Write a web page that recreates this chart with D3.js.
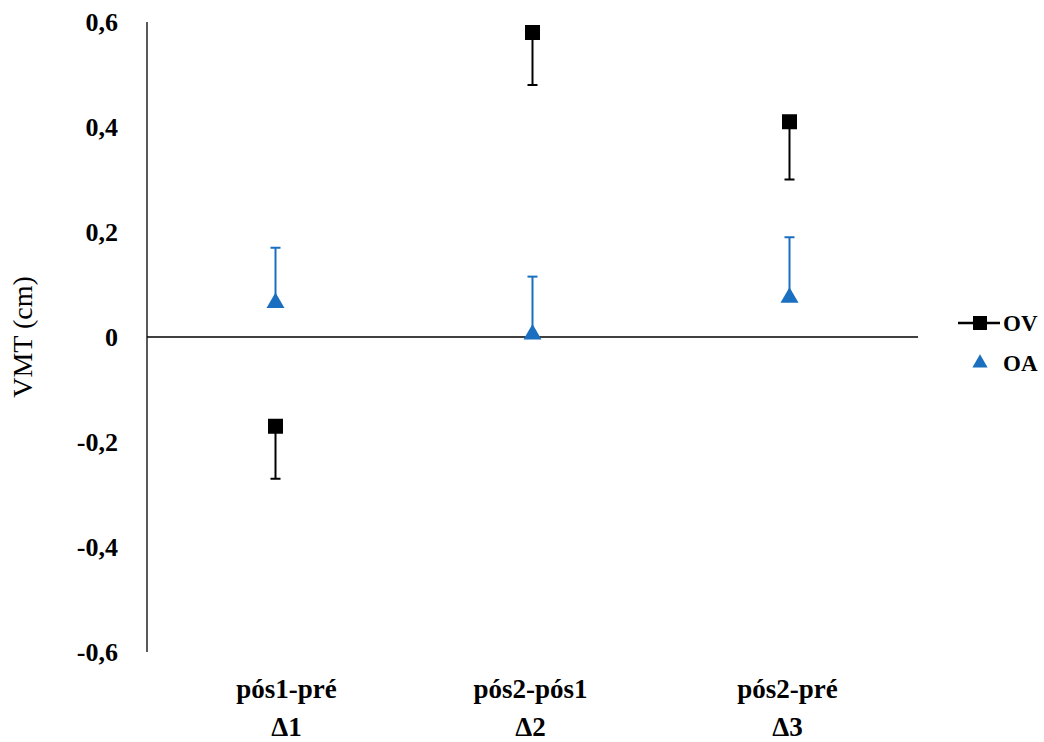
<!DOCTYPE html>
<html>
<head>
<meta charset="utf-8">
<style>
  body { margin: 0; background: #fff; }
</style>
</head>
<body>
<svg id="chart" width="1044" height="742"></svg>
<script src="https://cdnjs.cloudflare.com/ajax/libs/d3/7.8.5/d3.min.js"></script>
<script>
  // categorias e séries
  const categories = ['pós1-pré', 'pós2-pós1', 'pós2-pré'];
  const deltas = ['Δ1', 'Δ2', 'Δ3'];
  const ovValues = [-0.17, 0.58, 0.41];
  const ovErrors = [0.10, 0.10, 0.11];   // barra para baixo
  const oaValues = [0.065, 0.005, 0.075];
  const oaErrors = [0.105, 0.11, 0.115]; // barra para cima
  const yTicks = [-0.6, -0.4, -0.2, 0, 0.2, 0.4, 0.6];

  const FONT = '"Liberation Serif", "Times New Roman", serif';
  const svg = d3.select('#chart');
  const margin = {top: 22, right: 126, bottom: 90, left: 147};
  const width = +svg.attr('width') - margin.left - margin.right;
  const height = +svg.attr('height') - margin.top - margin.bottom;
  const g = svg.append('g').attr('transform', `translate(${margin.left},${margin.top})`);

  const x = d3.scaleBand().domain(categories).range([0, width]);
  const y = d3.scaleLinear().domain([-0.6, 0.6]).range([height, 0]);
  const blue = '#1a6fc0';

  // eixo Y (só linha e rótulos)
  g.append('line').attr('x1', 0).attr('x2', 0).attr('y1', 0).attr('y2', height)
    .attr('stroke', '#000').attr('stroke-width', 1.3);
  g.selectAll('.ytick').data(yTicks).enter().append('text')
    .attr('x', -29).attr('y', d => y(d)).attr('dy', '0.33em')
    .attr('font-family', FONT)
    .attr('text-anchor', 'end').attr('font-size', 26).attr('font-weight', 'bold')
    .text(d => d3.format('.1f')(d).replace('.', ',').replace('−', '-').replace('0,0', '0'));

  // linha do zero
  g.append('line').attr('x1', 0).attr('x2', width).attr('y1', y(0)).attr('y2', y(0))
    .attr('stroke', '#000').attr('stroke-width', 1.3);

  // rótulos das categorias
  const cx = c => x(c) + x.bandwidth() / 2;
  categories.forEach((c, i) => {
    const lx = cx(c) + (i === 0 ? 11 : (i === 1 ? -2 : -2));
    const t = g.append('text').attr('x', lx).attr('y', height + 46)
      .attr('font-family', FONT)
      .attr('text-anchor', 'middle').attr('font-size', 27).attr('font-weight', 'bold');
    t.append('tspan').attr('x', lx).text(c);
    t.append('tspan').attr('x', lx).attr('dy', 38).text(deltas[i]);
  });

  // título do eixo Y
  svg.append('text')
    .attr('transform', `translate(32,${margin.top + y(0)}) rotate(-90)`)
    .attr('font-family', FONT)
    .attr('text-anchor', 'middle').attr('font-size', 28).text('VMT (cm)');

  const cap = 5;
  // OA barras de erro
  categories.forEach((c, i) => {
    const top = y(oaValues[i] + oaErrors[i]);
    g.append('line').attr('x1', cx(c)).attr('x2', cx(c)).attr('y1', y(oaValues[i])).attr('y2', top)
      .attr('stroke', blue).attr('stroke-width', 2);
    g.append('line').attr('x1', cx(c) - cap).attr('x2', cx(c) + cap).attr('y1', top).attr('y2', top)
      .attr('stroke', blue).attr('stroke-width', 2);
  });
  // OV barras de erro
  categories.forEach((c, i) => {
    const bot = y(ovValues[i] - ovErrors[i]);
    g.append('line').attr('x1', cx(c)).attr('x2', cx(c)).attr('y1', y(ovValues[i])).attr('y2', bot)
      .attr('stroke', '#000').attr('stroke-width', 2);
    g.append('line').attr('x1', cx(c) - cap).attr('x2', cx(c) + cap).attr('y1', bot).attr('y2', bot)
      .attr('stroke', '#000').attr('stroke-width', 2);
  });

  const tri = d3.symbol().type(d3.symbolTriangle).size(140);
  g.selectAll('.oa').data(oaValues).enter().append('path')
    .attr('d', tri).attr('fill', blue)
    .attr('transform', (d, i) => `translate(${cx(categories[i])},${y(d)})`);
  g.selectAll('.ov').data(ovValues).enter().append('rect')
    .attr('x', (d, i) => cx(categories[i]) - 7.5).attr('y', d => y(d) - 7.5)
    .attr('width', 15).attr('height', 15).attr('fill', '#000');

  // legenda
  const lg = svg.append('g').attr('transform', 'translate(958,323)');
  lg.append('line').attr('x1', 0).attr('x2', 42).attr('y1', 0).attr('y2', 0)
    .attr('stroke', '#000').attr('stroke-width', 2.5);
  lg.append('rect').attr('x', 15).attr('y', -7).attr('width', 14).attr('height', 14).attr('fill', '#000');
  lg.append('text').attr('x', 45).attr('y', 0).attr('dy', '0.35em').attr('font-size', 23)
    .attr('font-family', FONT)
    .attr('font-weight', 'bold').text('OV');
  lg.append('path').attr('d', d3.symbol().type(d3.symbolTriangle).size(100))
    .attr('transform', 'translate(22,362)'.replace('362', '40')).attr('fill', blue);
  lg.append('text').attr('x', 45).attr('y', 40).attr('dy', '0.35em').attr('font-size', 23)
    .attr('font-family', FONT)
    .attr('font-weight', 'bold').text('OA');
</script>
</body>
</html>
